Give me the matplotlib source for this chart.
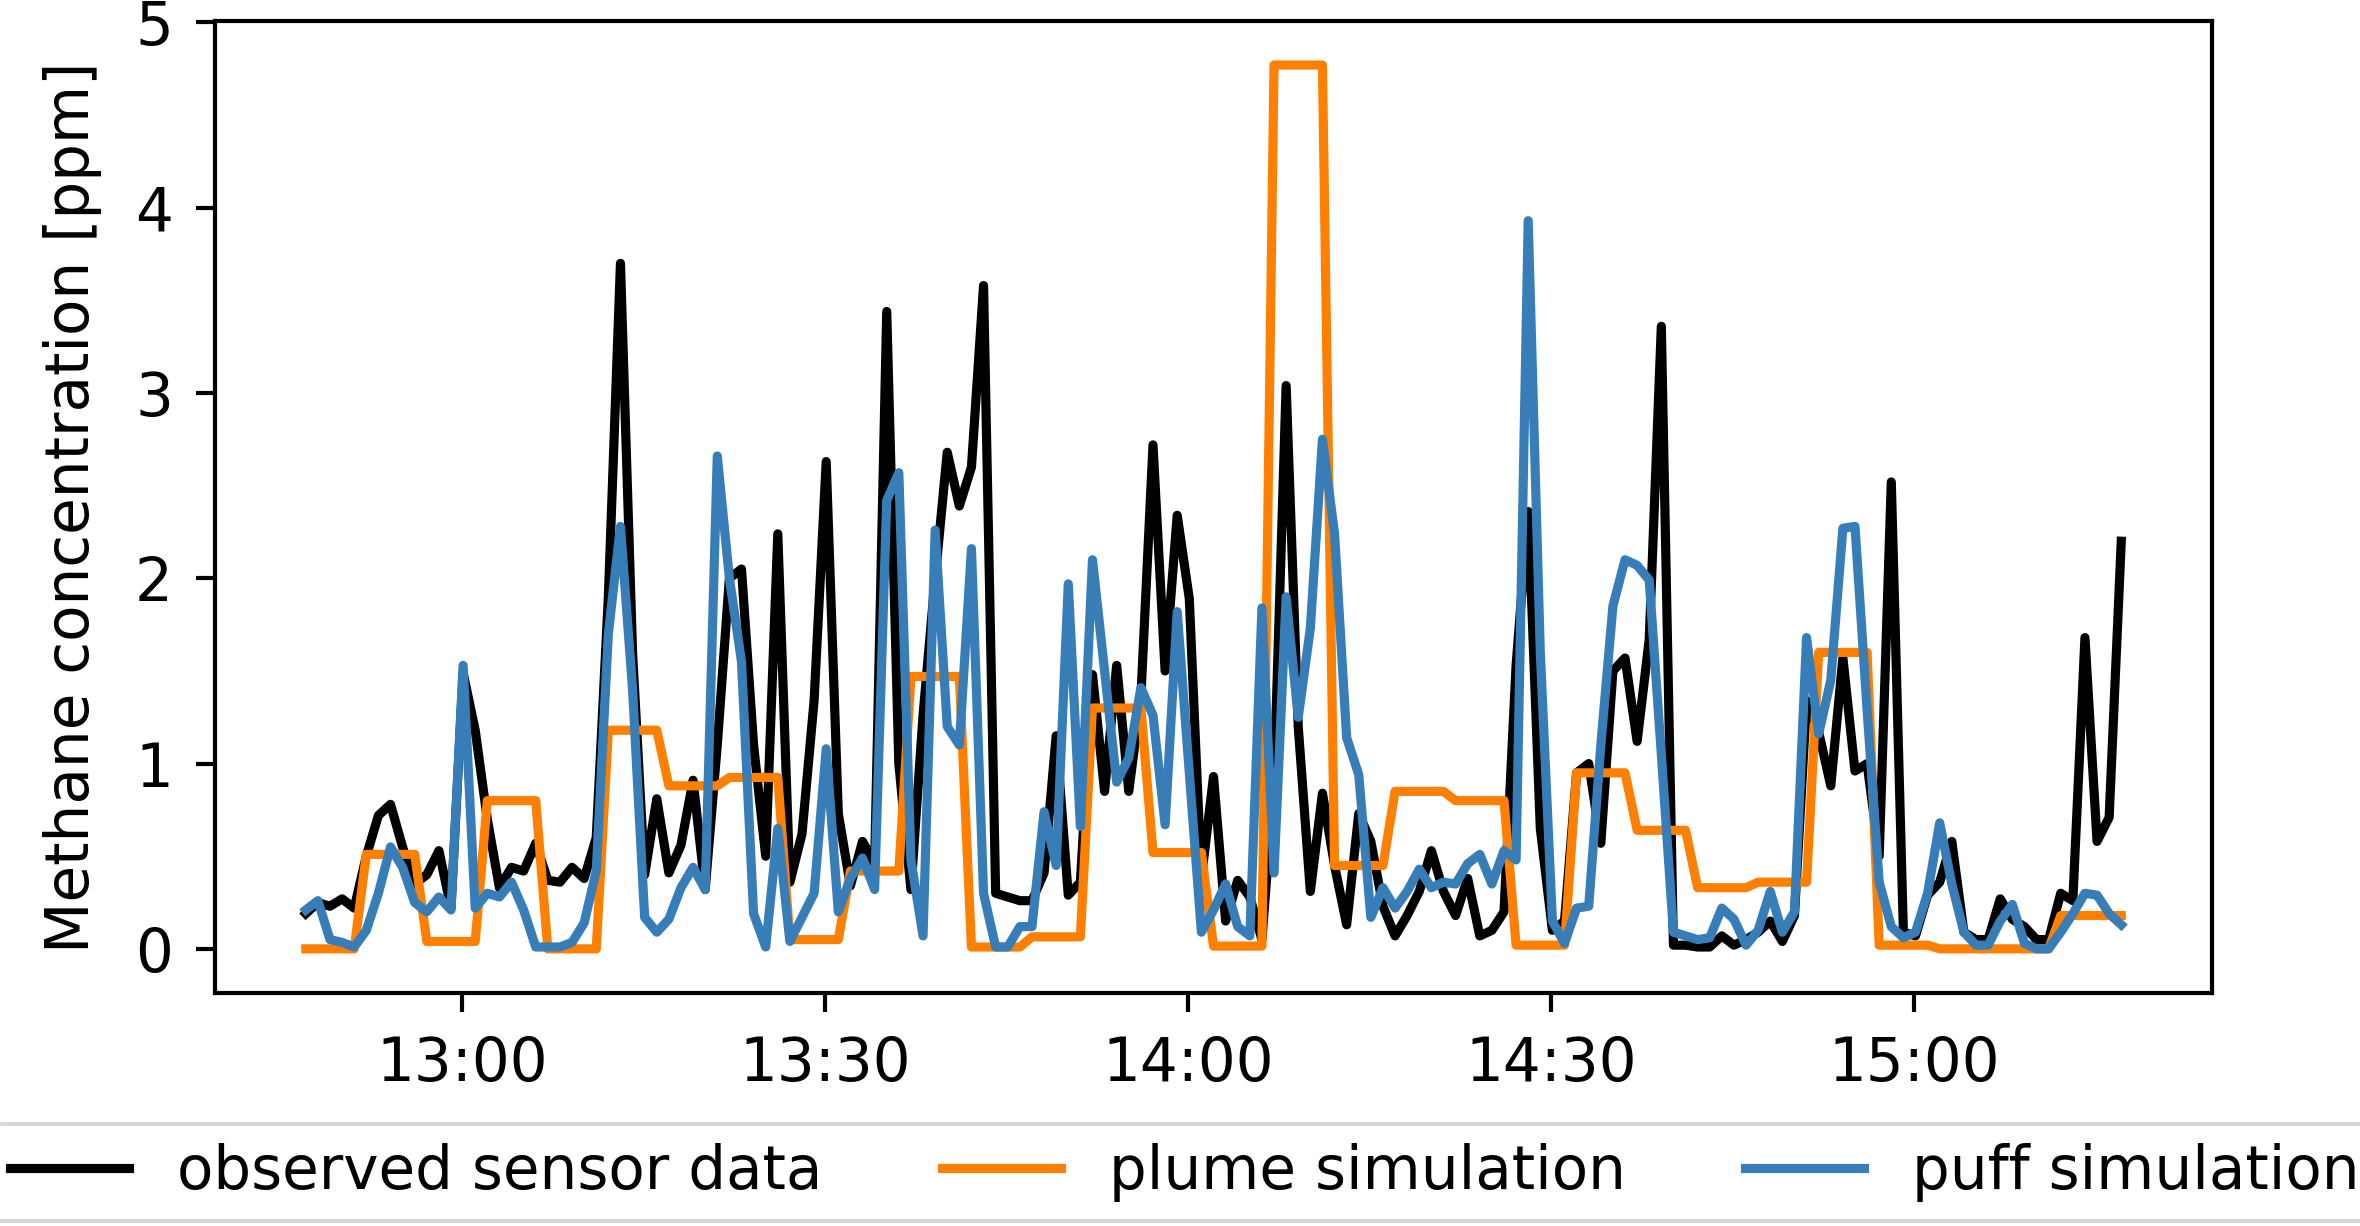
import matplotlib
matplotlib.use("Agg")
import matplotlib.pyplot as plt
import matplotlib.dates as mdates
import pandas as pd

# one sample per minute, starting 12:47
START = "2021-06-01 12:47:05"

observed = [
    0.19, 0.25, 0.23, 0.27, 0.22, 0.50, 0.72, 0.78, 0.55, 0.35,
    0.40, 0.53, 0.22, 1.49, 1.18, 0.70, 0.33, 0.44, 0.42, 0.57,
    0.37, 0.36, 0.44, 0.38, 0.60, 1.90, 3.70, 1.60, 0.40, 0.81,
    0.41, 0.56, 0.91, 0.32, 1.10, 2.00, 2.05, 1.10, 0.50, 2.24,
    0.36, 0.62, 1.34, 2.63, 0.73, 0.34, 0.58, 0.46, 3.44, 1.00,
    0.32, 1.26, 2.00, 2.68, 2.39, 2.60, 3.58, 0.30, 0.28, 0.26,
    0.26, 0.41, 1.15, 0.29, 0.36, 1.48, 0.85, 1.53, 0.85, 1.36,
    2.72, 1.50, 2.34, 1.89, 0.38, 0.93, 0.15, 0.37, 0.28, 0.05,
    0.90, 3.04, 1.20, 0.31, 0.84, 0.45, 0.13, 0.73, 0.58, 0.23,
    0.07, 0.18, 0.31, 0.53, 0.31, 0.18, 0.38, 0.07, 0.10, 0.20,
    1.53, 2.36, 0.65, 0.10, 0.15, 0.95, 1.00, 0.57, 1.50, 1.57,
    1.12, 1.67, 3.36, 0.02, 0.02, 0.01, 0.01, 0.07, 0.02, 0.05,
    0.09, 0.15, 0.04, 0.18, 1.34, 1.17, 0.88, 1.57, 0.96, 1.00,
    0.50, 2.52, 0.09, 0.07, 0.29, 0.36, 0.58, 0.09, 0.05, 0.05,
    0.27, 0.16, 0.12, 0.05, 0.05, 0.30, 0.26, 1.68, 0.58, 0.71,
    2.20,
]

plume = [
    0.00, 0.00, 0.00, 0.00, 0.00, 0.51, 0.51, 0.51, 0.51, 0.51,
    0.04, 0.04, 0.04, 0.04, 0.04, 0.80, 0.80, 0.80, 0.80, 0.80,
    0.00, 0.00, 0.00, 0.00, 0.00, 1.18, 1.18, 1.18, 1.18, 1.18,
    0.88, 0.88, 0.88, 0.88, 0.88, 0.925, 0.925, 0.925, 0.925, 0.925,
    0.05, 0.05, 0.05, 0.05, 0.05, 0.42, 0.42, 0.42, 0.42, 0.42,
    1.47, 1.47, 1.47, 1.47, 1.47, 0.01, 0.01, 0.01, 0.01, 0.01,
    0.065, 0.065, 0.065, 0.065, 0.065, 1.30, 1.30, 1.30, 1.30, 1.30,
    0.52, 0.52, 0.52, 0.52, 0.52, 0.015, 0.015, 0.015, 0.015, 0.015,
    4.77, 4.77, 4.77, 4.77, 4.77, 0.45, 0.45, 0.45, 0.45, 0.45,
    0.85, 0.85, 0.85, 0.85, 0.85, 0.80, 0.80, 0.80, 0.80, 0.80,
    0.02, 0.02, 0.02, 0.02, 0.02, 0.95, 0.95, 0.95, 0.95, 0.95,
    0.64, 0.64, 0.64, 0.64, 0.64, 0.33, 0.33, 0.33, 0.33, 0.33,
    0.36, 0.36, 0.36, 0.36, 0.36, 1.60, 1.60, 1.60, 1.60, 1.60,
    0.02, 0.02, 0.02, 0.02, 0.02, 0.00, 0.00, 0.00, 0.00, 0.00,
    0.00, 0.00, 0.00, 0.00, 0.00, 0.18, 0.18, 0.18, 0.18, 0.18,
    0.18,
]

puff = [
    0.21, 0.26, 0.05, 0.035, 0.01, 0.10, 0.30, 0.55, 0.44, 0.25,
    0.20, 0.28, 0.21, 1.53, 0.22, 0.30, 0.28, 0.36, 0.21, 0.01,
    0.01, 0.01, 0.035, 0.14, 0.42, 1.70, 2.28, 1.40, 0.17, 0.09,
    0.16, 0.33, 0.44, 0.32, 2.66, 2.00, 1.55, 0.19, 0.01, 0.65,
    0.04, 0.17, 0.30, 1.08, 0.20, 0.38, 0.49, 0.32, 2.42, 2.57,
    0.48, 0.07, 2.26, 1.20, 1.10, 2.16, 0.30, 0.01, 0.01, 0.12,
    0.12, 0.74, 0.45, 1.97, 0.66, 2.10, 1.50, 0.90, 1.03, 1.41,
    1.26, 0.67, 1.82, 0.95, 0.09, 0.21, 0.35, 0.12, 0.07, 1.84,
    0.41, 1.90, 1.25, 1.73, 2.75, 2.24, 1.14, 0.94, 0.17, 0.33,
    0.22, 0.31, 0.43, 0.33, 0.36, 0.35, 0.46, 0.51, 0.35, 0.53,
    0.48, 3.93, 1.60, 0.15, 0.03, 0.22, 0.23, 1.10, 1.85, 2.10,
    2.07, 1.99, 1.05, 0.09, 0.07, 0.05, 0.06, 0.22, 0.16, 0.02,
    0.10, 0.31, 0.09, 0.20, 1.68, 1.16, 1.45, 2.27, 2.28, 1.29,
    0.36, 0.12, 0.06, 0.09, 0.30, 0.68, 0.35, 0.09, 0.02, 0.02,
    0.15, 0.24, 0.03, 0.00, 0.00, 0.09, 0.19, 0.30, 0.29, 0.19,
    0.13,
]

times = pd.date_range(START, periods=len(observed), freq="1min")

plt.rcParams["font.family"] = "DejaVu Sans"
plt.rcParams["font.size"] = 14.3

fig = plt.figure(figsize=(2360 / 300, 1226 / 300), dpi=300)
ax = fig.add_axes([0.0911, 0.190, 0.8462, 0.793])

lw = 2.2
ax.plot(times, observed, color="black", lw=lw, label="observed sensor data")
ax.plot(times, plume, color="#ff7f00", lw=lw, label="plume simulation")
ax.plot(times, puff, color="#377eb8", lw=lw, label="puff simulation")

ax.xaxis.set_major_locator(mdates.MinuteLocator(byminute=[0, 30]))
ax.xaxis.set_major_formatter(mdates.DateFormatter("%H:%M"))
ax.set_yticks([0, 1, 2, 3, 4, 5])
ax.set_ylabel("Methane concentration [ppm]", labelpad=8)
ax.tick_params(length=4.6, width=1.0, pad=5.5)
for sp in ax.spines.values():
    sp.set_linewidth(1.0)

fig.legend(loc="center", bbox_to_anchor=(0.502, 1 - 1172.5 / 1226),
           ncol=3, borderaxespad=0.0, borderpad=0.32)

fig.savefig("out.png", dpi=300)
